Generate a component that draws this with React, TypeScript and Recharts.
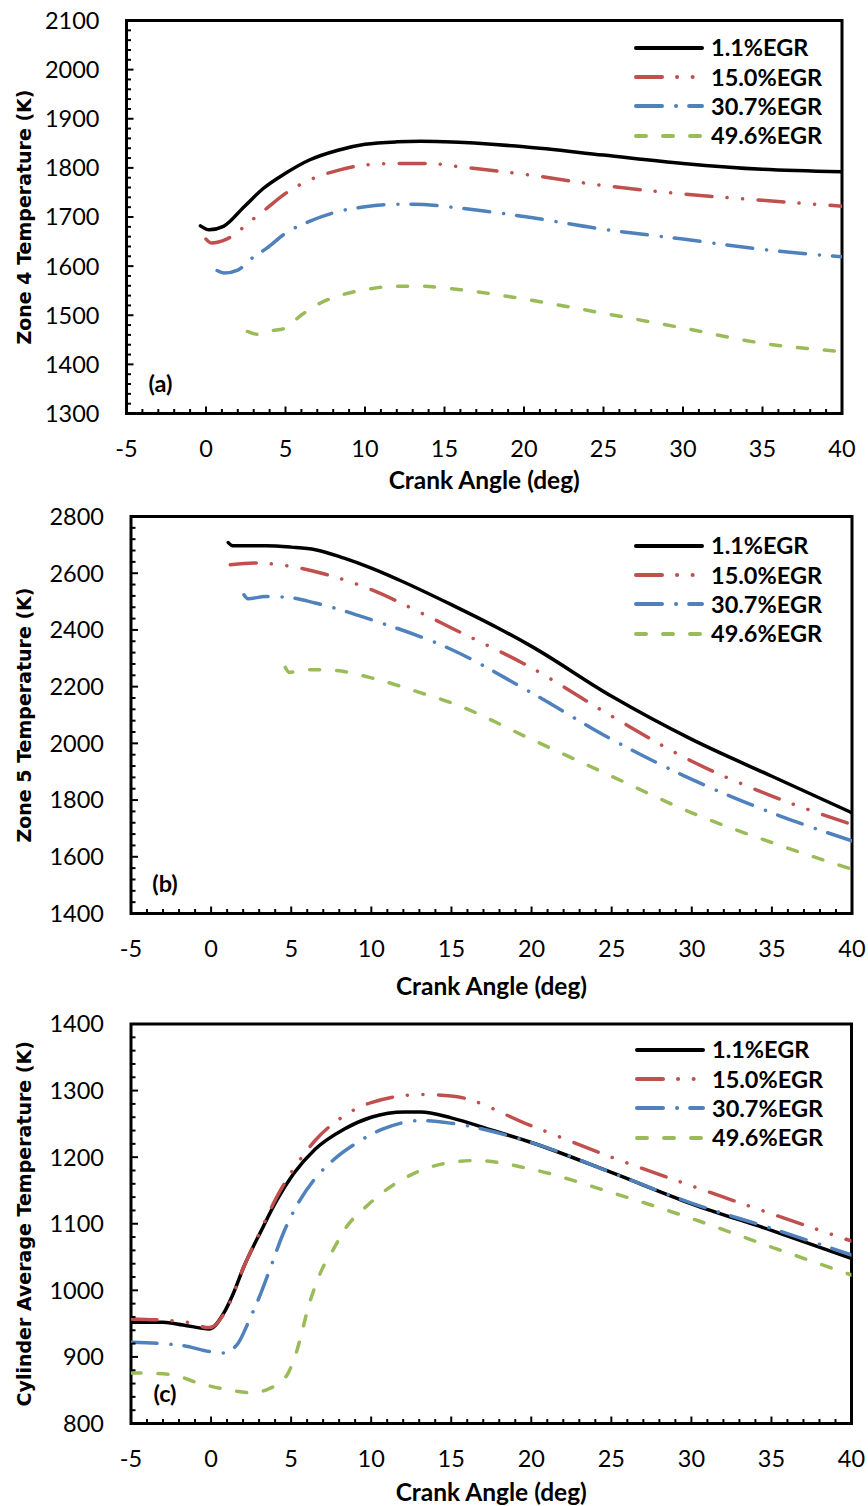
import { LineChart, Line, XAxis, YAxis, ReferenceArea, Legend } from "recharts"

type Pt = [number, number]

const seriesNames = ["1.1%EGR", "15.0%EGR", "30.7%EGR", "49.6%EGR"]
const seriesColors = ["#000000", "#C0504D", "#4F81BD", "#9BBB59"]
const seriesDash = [undefined, "26 15 0.1 15.5 0.1 15.5", "26 14 0.1 13", "10 17"]

// (a) zone 4 temperature, [crank angle, K]
const zone4Egr01: Pt[] = [[-0.35, 1682], [0.2, 1674], [1.1, 1681], [2.4, 1721], [3.6, 1758], [5, 1789], [6.5, 1816], [8.3, 1836], [10, 1848], [12, 1853], [13.5, 1854], [15, 1853], [20, 1843], [25, 1826], [30, 1809], [35, 1797], [40, 1792]]
const zone4Egr15: Pt[] = [[0, 1655], [0.35, 1647], [1.3, 1655], [2.9, 1694], [3.8, 1717], [5, 1748], [6.5, 1775], [8.3, 1795], [10, 1806], [12, 1809], [14, 1809], [16, 1802], [20, 1787], [25, 1764], [30, 1747], [35, 1734], [40, 1722]]
const zone4Egr31: Pt[] = [[0.7, 1591], [1.15, 1586], [2, 1592], [3, 1619], [3.8, 1636], [5, 1667], [6.5, 1691], [8.3, 1711], [10, 1721], [12, 1726], [13, 1726], [16, 1718], [20, 1701], [25, 1675], [30, 1655], [35, 1634], [40, 1619]]
const zone4Egr50: Pt[] = [[2.6, 1467], [3.3, 1461], [4.1, 1468], [5, 1474], [5.9, 1498], [7.2, 1525], [8.6, 1542], [10, 1552], [12, 1559], [13.5, 1559], [16, 1552], [20, 1533], [25, 1504], [30, 1474], [35, 1443], [40, 1426]]

// (b) zone 5 temperature
const zone5Egr01: Pt[] = [[1.07, 2708], [1.35, 2697], [3.4, 2697], [5, 2692], [6.5, 2683], [8.3, 2653], [10, 2618], [11.7, 2577], [15, 2489], [17.9, 2407], [20, 2342], [25, 2166], [30, 2014], [35, 1884], [40, 1755]]
const zone5Egr15: Pt[] = [[1.2, 2630], [2.7, 2636], [5, 2624], [6.9, 2600], [10, 2542], [13.1, 2460], [15, 2407], [20, 2266], [25, 2096], [30, 1937], [35, 1814], [40, 1714]]
const zone5Egr31: Pt[] = [[2.05, 2524], [2.3, 2510], [3.4, 2518], [4.6, 2516], [6.5, 2495], [10, 2436], [15, 2331], [20, 2178], [25, 2014], [30, 1873], [35, 1755], [40, 1656]]
const zone5Egr50: Pt[] = [[4.63, 2268], [4.87, 2251], [6.2, 2260], [7.6, 2258], [10, 2231], [13.1, 2178], [15, 2143], [20, 2014], [25, 1884], [30, 1755], [35, 1650], [40, 1556]]

// (c) cylinder average temperature
const cylEgr01: Pt[] = [[-5, 952], [-3, 952], [-1.75, 948], [-0.1, 942], [0.8, 966], [1.35, 993], [2.04, 1035], [3.1, 1088], [4.1, 1135], [5.15, 1175], [6.5, 1212], [8.3, 1242], [10, 1260], [12.1, 1268], [13.1, 1268], [15, 1259], [17.6, 1240], [20, 1222], [25, 1177], [30, 1130], [35, 1090], [40, 1048]]
const cylEgr15: Pt[] = [[-5, 957], [-1.75, 953], [-0.1, 944], [1, 973], [2.04, 1035], [3.1, 1090], [4.1, 1140], [5.15, 1182], [6.5, 1225], [8.3, 1262], [10, 1282], [13.1, 1294], [15, 1292], [20, 1247], [25, 1200], [30, 1157], [35, 1115], [40, 1074]]
const cylEgr31: Pt[] = [[-5, 922], [-1.75, 917], [-0.1, 908], [0.8, 906], [1.7, 921], [2.4, 956], [3.1, 995], [3.8, 1040], [4.5, 1085], [5.3, 1125], [6.4, 1165], [7.6, 1195], [9, 1220], [10.7, 1242], [13.1, 1255], [15, 1251], [20, 1222], [25, 1177], [30, 1131], [35, 1093], [40, 1053]]
const cylEgr50: Pt[] = [[-5, 876], [-2.6, 874], [-0.7, 860], [1.2, 850], [2.6, 846], [3.5, 851], [4.3, 862], [4.8, 875], [5.3, 905], [6.2, 985], [6.9, 1030], [7.6, 1060], [8.45, 1095], [9.65, 1125], [11, 1152], [13.1, 1180], [15.2, 1193], [16.6, 1195], [20, 1182], [25, 1147], [30, 1108], [35, 1065], [40, 1023]]

const range = (a: number, b: number, s: number) => {
  const out: number[] = []
  for (let v = a; v <= b + 1e-9; v += s) out.push(Math.round(v * 100) / 100)
  return out
}

const panels = [
  {
    tag: "(a)", yTitle: "Zone 4 Temperature (K)", height: 500, titleOffset: 75.5,
    plotLeft: 126.5, plotRight: 842, plotTop: 20.5, plotBottom: 413.5,
    yMin: 1300, yMax: 2100, yMajor: 100, yMinor: 20, legendTop: 33, legendLeft: 634,
    series: [zone4Egr01, zone4Egr15, zone4Egr31, zone4Egr50],
  },
  {
    tag: "(b)", yTitle: "Zone 5 Temperature (K)", height: 500, titleOffset: 81,
    plotLeft: 131, plotRight: 852, plotTop: 16.5, plotBottom: 413.5,
    yMin: 1400, yMax: 2800, yMajor: 200, yMinor: 40, legendTop: 31, legendLeft: 634,
    series: [zone5Egr01, zone5Egr15, zone5Egr31, zone5Egr50],
  },
  {
    tag: "(c)", yTitle: "Cylinder Average Temperature (K)", height: 506, titleOffset: 77.5,
    plotLeft: 131, plotRight: 851.5, plotTop: 24, plotBottom: 423.5,
    yMin: 800, yMax: 1400, yMajor: 100, yMinor: 20, legendTop: 35, legendLeft: 635,
    series: [cylEgr01, cylEgr15, cylEgr31, cylEgr50],
  },
]

const numFont = "Lato, 'Open Sans', sans-serif"

function XTick({ x, y, payload }: any) {
  const v = payload.value
  const major = v % 5 === 0
  return (
    <g>
      <line x1={x} y1={y} x2={x} y2={y - (major ? 7 : 4.5)} stroke="#000" strokeWidth={2} />
      {major && (
        <text x={x} y={y + 43.5} textAnchor="middle" fontFamily={numFont} fontSize={23.5} fill="#000">
          {v}
        </text>
      )}
    </g>
  )
}

const makeYTick = (yMin: number, step: number) => ({ x, y, payload }: any) => {
  const v = payload.value
  const major = (v - yMin) % step === 0
  return (
    <g>
      <line x1={x} y1={y} x2={x + (major ? 7 : 4.5)} y2={y} stroke="#000" strokeWidth={2} />
      {major && (
        <text x={x - 27} y={y + 8.4} textAnchor="end" fontFamily={numFont} fontSize={23.5} fill="#000">
          {v}
        </text>
      )}
    </g>
  )
}

function LegendBox() {
  return (
    <div style={{ fontFamily: numFont, fontWeight: 700, fontSize: 23.5, color: "#000" }}>
      {seriesNames.map((name, i) => (
        <div key={name} style={{ display: "flex", alignItems: "center", height: 29.4 }}>
          <svg width={72} height={10} style={{ display: "block" }}>
            <line x1={2} y1={5} x2={68} y2={5} stroke={seriesColors[i]} strokeWidth={4}
              strokeLinecap="round" strokeDasharray={seriesDash[i]} />
          </svg>
          <span style={{ marginLeft: 5, lineHeight: "29px" }}>{name}</span>
        </div>
      ))}
    </div>
  )
}

function Panel({ p }: { p: (typeof panels)[number] }) {
  const W = 868
  const axisW = 60
  const axisH = 60
  const margin = {
    top: p.plotTop,
    right: W - p.plotRight,
    left: p.plotLeft - axisW,
    bottom: p.height - p.plotBottom - axisH,
  }
  const cx = (p.plotLeft + p.plotRight) / 2
  const cy = (p.plotTop + p.plotBottom) / 2
  return (
    <LineChart width={W} height={p.height} margin={margin}>
      <XAxis
        dataKey="x" type="number" domain={[-5, 40]} allowDataOverflow
        ticks={range(-5, 40, 1)} interval={0} height={axisH}
        axisLine={false} tickLine={false} tickSize={0} tickMargin={0}
        tick={<XTick />}
        label={{
          content: () => (
            <text x={cx} y={p.plotBottom + p.titleOffset} textAnchor="middle" fontFamily={numFont}
              fontWeight={700} fontSize={24.5} fill="#000">
              Crank Angle (deg)
            </text>
          ),
        }}
      />
      <YAxis
        type="number" domain={[p.yMin, p.yMax]} allowDataOverflow
        ticks={range(p.yMin, p.yMax, p.yMinor)} interval={0} width={axisW}
        axisLine={false} tickLine={false} tickSize={0} tickMargin={0}
        tick={makeYTick(p.yMin, p.yMajor)}
        label={{
          content: () => (
            <text transform={`translate(24,${cy}) rotate(-90)`} textAnchor="middle"
              dominantBaseline="central" fontFamily="'DejaVu Sans', Verdana, sans-serif"
              fontWeight={700} fontSize={19} fill="#000">
              {p.yTitle}
            </text>
          ),
        }}
      />
      {p.series.map((pts, i) => (
        <Line
          key={seriesNames[i]}
          data={pts.map(([x, t]) => ({ x, t }))}
          dataKey="t"
          type="monotone"
          stroke={seriesColors[i]}
          strokeWidth={3.5}
          strokeLinecap="round"
          strokeDasharray={seriesDash[i]}
          dot={false}
          activeDot={false}
          isAnimationActive={false}
        />
      ))}
      <ReferenceArea
        x1={-5} x2={40} y1={p.yMin} y2={p.yMax}
        fill="none" fillOpacity={0} stroke="#000" strokeWidth={3} ifOverflow="visible"
        label={{
          content: () => (
            <text x={p.plotLeft + 34} y={p.plotBottom - 31} textAnchor="middle"
              dominantBaseline="central" fontFamily={numFont} fontWeight={700} fontSize={23.5} fill="#000">
              {p.tag}
            </text>
          ),
        }}
      />
      <Legend
        layout="vertical" align="center" verticalAlign="middle"
        wrapperStyle={{ top: p.legendTop, left: p.legendLeft, width: 230 }}
        content={() => <LegendBox />}
      />
    </LineChart>
  )
}

export default function App() {
  return (
    <div style={{ position: "absolute", left: 0, top: 0, width: 868, height: 1506, overflow: "hidden", background: "#fff" }}>
      <style>{"html,body{margin:0;overflow:hidden}"}</style>
      {panels.map((p) => (
        <Panel key={p.tag} p={p} />
      ))}
    </div>
  )
}
